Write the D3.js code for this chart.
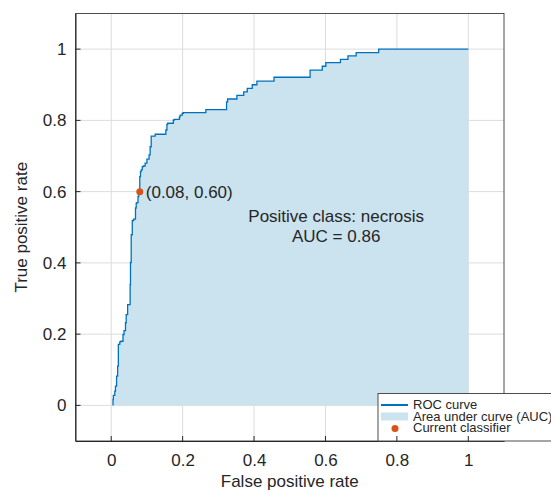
<!DOCTYPE html>
<html>
<head>
<meta charset="utf-8">
<script src="https://cdn.jsdelivr.net/npm/d3@7"></script>
<style>
  body { margin: 0; background: #fff; }
  svg { font-family: "Liberation Sans", Arial, sans-serif; }
</style>
</head>
<body>
<div id="chart"></div>
<script>
// ROC curve vertices
var fpr = [0.005, 0.006, 0.010, 0.012, 0.015, 0.018, 0.020, 0.024, 0.027, 0.033,
           0.036, 0.040, 0.042, 0.046, 0.046, 0.053, 0.054, 0.056, 0.056, 0.059,
           0.063, 0.068, 0.070, 0.072, 0.075, 0.077, 0.080, 0.082, 0.084, 0.087,
           0.090, 0.095, 0.100, 0.106, 0.109, 0.112, 0.112, 0.123, 0.126, 0.153,
           0.156, 0.158, 0.174, 0.177, 0.191, 0.193, 0.199, 0.202, 0.265, 0.265,
           0.323, 0.323, 0.326, 0.328, 0.352, 0.352, 0.371, 0.371, 0.381, 0.381,
           0.395, 0.395, 0.408, 0.408, 0.456, 0.456, 0.557, 0.557, 0.591, 0.591,
           0.601, 0.601, 0.642, 0.642, 0.663, 0.663, 0.686, 0.686, 0.749, 0.749,
           1.000];
var tpr = [0.000, 0.017, 0.028, 0.040, 0.054, 0.082, 0.110, 0.171, 0.178, 0.180,
           0.199, 0.210, 0.232, 0.255, 0.281, 0.283, 0.339, 0.401, 0.460, 0.479,
           0.519, 0.523, 0.554, 0.568, 0.569, 0.586, 0.600, 0.642, 0.656, 0.661,
           0.670, 0.672, 0.680, 0.691, 0.703, 0.726, 0.753, 0.756, 0.761, 0.761,
           0.773, 0.789, 0.792, 0.801, 0.803, 0.810, 0.815, 0.820, 0.822, 0.830,
           0.830, 0.838, 0.852, 0.860, 0.860, 0.870, 0.870, 0.880, 0.880, 0.890,
           0.890, 0.900, 0.900, 0.910, 0.910, 0.921, 0.921, 0.941, 0.941, 0.952,
           0.952, 0.962, 0.962, 0.971, 0.971, 0.981, 0.981, 0.990, 0.990, 1.000,
           1.000];
var classifier = [0.08, 0.60];
var className = 'necrosis';
var auc = 0.86;
var tickValues = [0, 0.2, 0.4, 0.6, 0.8, 1];
var legendLabels = ['ROC curve', 'Area under curve (AUC)', 'Current classifier'];

var width = 551, height = 492;
var margin = { left: 75.5, right: 47, top: 13.5, bottom: 51 };
var lineColor = '#0072bd', fillColor = '#cbe2ef', dotColor = '#d95319', textColor = '#262626';

var svg = d3.select('#chart').append('svg')
            .attr('width', width)
            .attr('height', height);

var x = d3.scaleLinear().domain([-0.1, 1.1]).range([margin.left, width - margin.right]);
var y = d3.scaleLinear().domain([-0.1, 1.1]).range([height - margin.bottom, margin.top]);

var points = fpr.map(function (f, i) { return [f, tpr[i]]; });

svg.append('clipPath').attr('id', 'plot-clip')
   .append('rect')
   .attr('x', x(-0.1)).attr('y', y(1.1))
   .attr('width', x(1.1) - x(-0.1)).attr('height', y(-0.1) - y(1.1));

// grid
var grid = svg.append('g').attr('stroke', '#dcdcdc').attr('stroke-width', 1);
tickValues.forEach(function (t) {
  grid.append('line')
      .attr('x1', x(t)).attr('x2', x(t))
      .attr('y1', y(-0.1)).attr('y2', y(1.1));
  grid.append('line')
      .attr('x1', x(-0.1)).attr('x2', x(1.1))
      .attr('y1', y(t)).attr('y2', y(t));
});

var plot = svg.append('g').attr('clip-path', 'url(#plot-clip)');

plot.append('path')
    .datum(points)
    .attr('fill', fillColor)
    .attr('d', d3.area()
                 .curve(d3.curveStepBefore)
                 .x(function (d) { return x(d[0]); })
                 .y0(y(0))
                 .y1(function (d) { return y(d[1]); }));

plot.append('path')
    .datum(points)
    .attr('fill', 'none')
    .attr('stroke', lineColor)
    .attr('stroke-width', 1.3)
    .attr('d', d3.line()
                 .curve(d3.curveStepBefore)
                 .x(function (d) { return x(d[0]); })
                 .y(function (d) { return y(d[1]); }));

plot.append('circle')
    .attr('cx', x(classifier[0])).attr('cy', y(classifier[1]))
    .attr('r', 3.5)
    .attr('fill', dotColor);

plot.append('text')
    .attr('x', x(classifier[0]) + 6).attr('y', y(classifier[1]))
    .attr('dy', '0.35em')
    .attr('font-size', 17)
    .attr('fill', textColor)
    .text('(' + classifier[0].toFixed(2) + ', ' + classifier[1].toFixed(2) + ')');

var note = plot.append('text')
               .attr('text-anchor', 'middle')
               .attr('font-size', 17)
               .attr('fill', textColor);
note.append('tspan').attr('x', x(0.63)).attr('y', y(0.515)).text('Positive class: ' + className);
note.append('tspan').attr('x', x(0.63)).attr('y', y(0.46)).text('AUC = ' + auc.toFixed(2));

// axes box
svg.append('rect')
   .attr('x', x(-0.1)).attr('y', y(1.1))
   .attr('width', x(1.1) - x(-0.1)).attr('height', y(-0.1) - y(1.1))
   .attr('fill', 'none')
   .attr('stroke', '#4d4d4d')
   .attr('stroke-width', 1);

var fmt = function (d) { return d3.format('~g')(d); };

svg.append('g')
   .attr('transform', 'translate(0,' + y(-0.1) + ')')
   .call(d3.axisBottom(x).tickValues(tickValues).tickFormat(fmt).tickSizeInner(0).tickSizeOuter(0).tickPadding(13))
   .call(function (g) {
     g.select('.domain').attr('stroke', textColor);
     g.selectAll('text').attr('font-size', 17).attr('fill', textColor).attr('font-family', null);
   });

svg.append('g')
   .attr('transform', 'translate(' + x(-0.1) + ',0)')
   .call(d3.axisLeft(y).tickValues(tickValues).tickFormat(fmt).tickSizeInner(0).tickSizeOuter(0).tickPadding(9))
   .call(function (g) {
     g.select('.domain').attr('stroke', textColor);
     g.selectAll('text').attr('font-size', 17).attr('fill', textColor).attr('font-family', null);
   });

// axis titles
svg.append('text')
   .attr('x', (x(-0.1) + x(1.1)) / 2).attr('y', 487)
   .attr('text-anchor', 'middle')
   .attr('font-size', 17)
   .attr('fill', textColor)
   .text('False positive rate');

svg.append('text')
   .attr('transform', 'translate(27,' + (y(-0.1) + y(1.1)) / 2 + ') rotate(-90)')
   .attr('text-anchor', 'middle')
   .attr('font-size', 17)
   .attr('fill', textColor)
   .text('True positive rate');

// legend
var lx = 378, ly = 393.5;
var legend = svg.append('g');
legend.append('rect')
      .attr('x', lx).attr('y', ly)
      .attr('width', 200).attr('height', y(-0.1) - ly)
      .attr('fill', '#fff')
      .attr('stroke', '#4d4d4d')
      .attr('stroke-width', 1);

legend.append('line')
      .attr('x1', lx + 3).attr('x2', lx + 30)
      .attr('y1', ly + 11.5).attr('y2', ly + 11.5)
      .attr('stroke', lineColor).attr('stroke-width', 2);
legend.append('rect')
      .attr('x', lx + 3).attr('y', ly + 19)
      .attr('width', 27).attr('height', 8)
      .attr('fill', fillColor);
legend.append('circle')
      .attr('cx', lx + 17).attr('cy', ly + 35)
      .attr('r', 3.5)
      .attr('fill', dotColor);

legendLabels.forEach(function (label, i) {
  legend.append('text')
        .attr('x', lx + 35).attr('y', ly + 15.5 + i * 11.5)
        .attr('font-size', 13)
        .attr('fill', textColor)
        .text(label);
});

// inward tick marks, drawn last so they sit over the legend
var ticks = svg.append('g').attr('stroke', textColor).attr('stroke-width', 1);
tickValues.forEach(function (t) {
  ticks.append('line')
       .attr('x1', x(t)).attr('x2', x(t))
       .attr('y1', y(-0.1)).attr('y2', y(-0.1) - 5);
  ticks.append('line')
       .attr('x1', x(-0.1)).attr('x2', x(-0.1) + 5)
       .attr('y1', y(t)).attr('y2', y(t));
});
</script>
</body>
</html>
